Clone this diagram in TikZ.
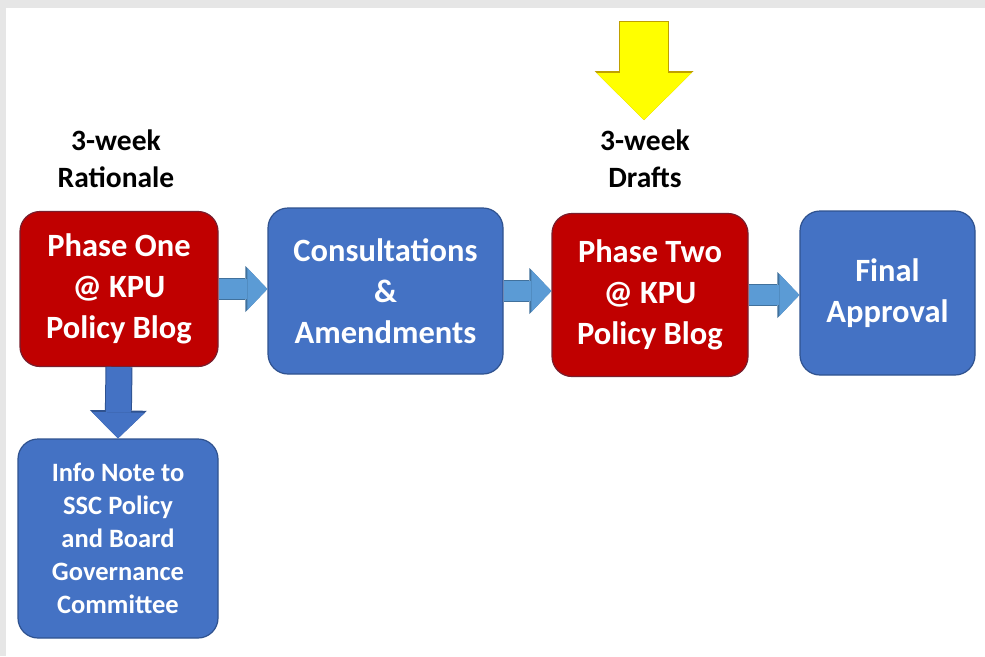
\documentclass[tikz,border=0pt]{standalone}
\usepackage{fontspec}
\setmainfont{Carlito}
\usetikzlibrary{arrows.meta}
\definecolor{kpured}{RGB}{192,0,0}
\definecolor{kpureddark}{RGB}{120,30,45}
\definecolor{kpublue}{RGB}{68,114,196}
\definecolor{kpubluedark}{RGB}{47,82,143}
\definecolor{flowblue}{RGB}{91,155,213}
\definecolor{flowbluedark}{RGB}{65,113,156}
\definecolor{signyellow}{RGB}{255,255,0}
\definecolor{signyellowdark}{RGB}{191,160,0}
\definecolor{frame}{RGB}{230,230,230}
\tikzstyle{phase}=[rectangle,rounded corners=20pt,draw=kpureddark,fill=kpured,line width=1.2pt,text=white,align=center,font=\bfseries\fontsize{32.5}{41}\selectfont]
\tikzstyle{stage}=[phase,draw=kpubluedark,fill=kpublue]
\tikzstyle{note}=[stage,font=\bfseries\fontsize{26.5}{33}\selectfont]
\tikzstyle{period}=[align=center,font=\bfseries\fontsize{29.5}{37}\selectfont]
\tikzstyle{flow}=[line width=20pt,flowblue,-{Triangle[length=20pt,width=42pt,line width=0pt]},
  preaction={draw=flowbluedark,line width=22pt,-{Triangle[length=22pt,width=46pt,line width=0pt]}}]
\tikzstyle{drop}=[line width=25pt,kpublue,-{Triangle[length=26pt,width=53pt,line width=0pt]},
  preaction={draw=kpubluedark,line width=27pt,-{Triangle[length=28pt,width=57pt,line width=0pt]}}]
\tikzstyle{signal}=[line width=48pt,signyellow,-{Triangle[length=47pt,width=95pt,line width=0pt]},
  preaction={draw=signyellowdark,line width=50pt,shorten <=-1pt,-{Triangle[length=49pt,width=99pt,line width=0pt]}}]

\begin{document}
\begin{tikzpicture}[x=1pt,y=-1pt]
  \fill[frame] (0,0) rectangle (985,656);
  \fill[white] (6,8) rectangle (985,656);
  \useasboundingbox (0,0) rectangle (985,656);
  % phases and stages
  \node[phase,minimum width=198pt,minimum height=155pt] (one) at (119,289) {Phase One\\@ KPU\\Policy Blog};
  \node[stage,minimum width=235pt,minimum height=166pt] (cons) at (385.5,291) {Consultations\\\&\\Amendments};
  \node[phase,minimum width=196pt,minimum height=163pt] (two) at (650,295) {Phase Two\\@ KPU\\Policy Blog};
  \node[stage,minimum width=175pt,minimum height=164pt] (final) at (887.5,293) {Final\\Approval};
  \node[note,minimum width=200pt,minimum height=199pt] (info) at (118,538.5) {Info Note to\\SSC Policy\\and Board\\Governance\\Committee};
  % time labels
  \node[period] (rationale) at (116,159) {3-week\\Rationale};
  \node[period] (drafts) at (645,159) {3-week\\Drafts};
  \coordinate (sun) at (644,22);
  \coordinate (drop) at (644,120);
  % arrows
  \foreach \from/\to in {one/cons,cons/two,two/final}
    \draw[flow] (\from.east) -- (\from.east -| \to.west);
  \draw[drop] (one.south) -- (info.north);
  \draw[signal] (sun) -- (drop);
\end{tikzpicture}
\end{document}
